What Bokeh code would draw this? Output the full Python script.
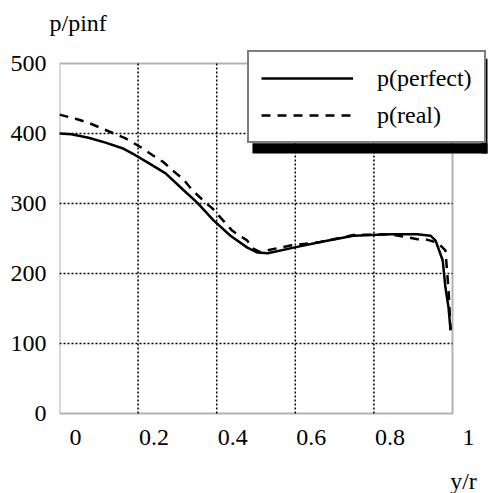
from bokeh.plotting import figure
from bokeh.models import (Range1d, FixedTicker, Legend, LegendItem, BoxAnnotation,
                          Label, LabelSet, ColumnDataSource)
from bokeh.embed import file_html
from bokeh.resources import INLINE

# ---- data ----
x_perfect = [0.0, 0.03, 0.074, 0.117, 0.16, 0.193, 0.226, 0.27, 0.316, 0.351, 0.392,
             0.435, 0.478, 0.504, 0.53, 0.596, 0.664, 0.748, 0.842, 0.91, 0.944,
             0.957, 0.975, 0.982, 0.990, 0.995]
p_perfect = [400, 399, 394, 387, 379, 369, 358, 343, 319, 301, 276,
             254, 237, 230, 229, 237, 245, 254, 256, 256, 254,
             247, 219, 180, 151, 119]

x_real = [0.0, 0.041, 0.071, 0.109, 0.168, 0.211, 0.237, 0.265, 0.288, 0.313, 0.338,
          0.372, 0.389, 0.427, 0.44, 0.478, 0.491, 0.51, 0.588, 0.664, 0.748,
          0.842, 0.911, 0.931, 0.962, 0.982, 0.99, 0.995]
p_real = [427, 421, 416, 407, 393, 379, 369, 359, 347, 336, 319,
          301, 293, 269, 261, 247, 236, 231, 240, 245, 255,
          256, 249, 249, 244, 233, 176, 119]

x_ticks = [0.0, 0.2, 0.4, 0.6, 0.8, 1.0]
x_tick_labels = ["0", "0.2", "0.4", "0.6", "0.8", "1"]
y_ticks = [0, 100, 200, 300, 400, 500]
x_grid = [0.2, 0.4, 0.6, 0.8]
y_grid = [100, 200, 300, 400]

FONT = "Liberation Serif"
FS = "24px"

x_lo, x_hi = x_ticks[0], x_ticks[-1]
y_lo, y_hi = y_ticks[0], y_ticks[-1]

p = figure(width=488, height=493, output_backend="svg", toolbar_location=None,
           x_range=Range1d(0, 1.0916), y_range=Range1d(-114.3, 532.9),
           min_border_left=59, min_border_right=0, min_border_top=40,
           min_border_bottom=0)

p.outline_line_color = None
p.background_fill_color = "white"
p.border_fill_color = "white"
p.grid.visible = False
p.xaxis.visible = False

# title "p/pinf"
p.title.text = "p/pinf"
p.title.align = "left"
p.title.offset = -10
p.title.text_font = FONT
p.title.text_font_size = FS
p.title.text_font_style = "normal"
p.title.text_color = "black"

ya = p.yaxis[0]
ya.ticker = FixedTicker(ticks=y_ticks)
ya.axis_line_color = None
ya.major_tick_line_color = None
ya.minor_tick_line_color = None
ya.major_tick_in = 0
ya.major_tick_out = 0
ya.major_label_standoff = 13
ya.major_label_text_font = FONT
ya.major_label_text_font_size = FS
ya.major_label_text_color = "black"

# dotted grid inside the plot box
p.segment(x0=x_grid, y0=[y_lo] * len(x_grid), x1=x_grid, y1=[y_hi] * len(x_grid),
          line_color="black", line_width=1.5, line_dash="2 2")
p.segment(x0=[x_lo] * len(y_grid), y0=y_grid, x1=[x_hi] * len(y_grid), y1=y_grid,
          line_color="black", line_width=1.5, line_dash="2 2")

r1 = p.line(x_perfect, p_perfect, line_color="black", line_width=2.5)
r2 = p.line(x_real, p_real, line_color="black", line_width=2.5, line_dash="9 7")

# plot box
p.add_layout(BoxAnnotation(left=x_lo, right=x_hi, bottom=y_lo, top=y_hi,
                           fill_alpha=0, line_color="black", line_width=2))

# legend drop shadow: bottom band and right band
p.add_layout(BoxAnnotation(left=0.491, right=1.089, top=386, bottom=371.4,
                           fill_color="black", fill_alpha=1.0, line_color=None))
p.add_layout(BoxAnnotation(left=1.074, right=1.089, top=507, bottom=371.4,
                           fill_color="black", fill_alpha=1.0, line_color=None))

# x tick labels (printed slightly to the right of the grid in the original)
src = ColumnDataSource(dict(x=x_ticks, y=[-35] * len(x_ticks), t=x_tick_labels))
p.add_layout(LabelSet(x="x", y="y", text="t", source=src, x_offset=16,
                      text_align="center", text_baseline="middle",
                      text_font=FONT, text_font_size=FS, text_color="black"))

p.add_layout(Label(x=1.028, y=-97, text="y/r", text_align="center",
                   text_baseline="middle", text_font=FONT, text_font_size=FS,
                   text_color="black"))

legend = Legend(items=[LegendItem(label="p(perfect)", renderers=[r1]),
                       LegendItem(label="p(real)", renderers=[r2])],
                location=(188, 350), orientation="vertical",
                glyph_width=92, glyph_height=28, label_height=28,
                label_standoff=24, spacing=9, padding=12, margin=0,
                label_text_font=FONT, label_text_font_size=FS,
                label_text_color="black",
                border_line_color="black", border_line_width=2,
                background_fill_color="white", background_fill_alpha=1.0)
p.add_layout(legend, "center")

open("out.html", "w").write(file_html(p, INLINE))
